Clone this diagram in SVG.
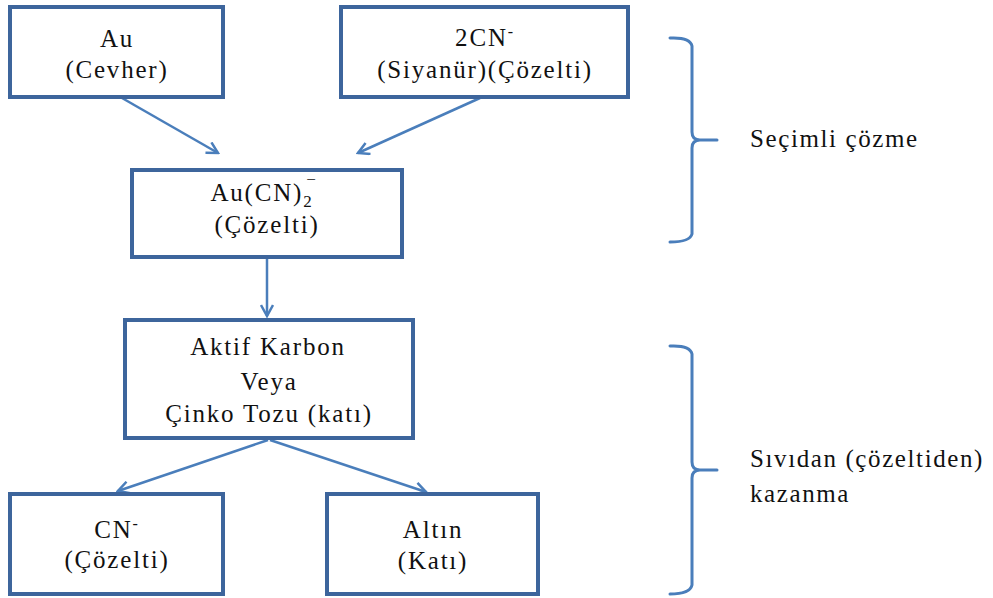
<svg xmlns="http://www.w3.org/2000/svg" width="993" height="598" viewBox="0 0 993 598">
  <style>
    .box { fill: #ffffff; stroke: #3D659C; stroke-width: 4; }
    .lbl { font-family: "Liberation Serif", "Times New Roman", serif; font-size: 25px; letter-spacing: 1.8px; fill: #111111; text-anchor: middle; }
    .side { font-family: "Liberation Serif", "Times New Roman", serif; font-size: 25px; letter-spacing: 1.6px; fill: #111111; }
    .sub { font-size: 17px; }
    .link { fill: none; stroke: #4A7EBB; stroke-width: 2.5; marker-end: url(#open); }
    .brace { fill: none; stroke: #4A7EBB; stroke-width: 3; stroke-linecap: round; stroke-linejoin: round; }
  </style>
  <defs>
    <marker id="open" viewBox="0 0 14 14" refX="12" refY="7" markerWidth="14" markerHeight="14" markerUnits="userSpaceOnUse" orient="auto">
      <path d="M1,1 L12,7 L1,13" fill="none" stroke="#4A7EBB" stroke-width="2.5"/>
    </marker>
  </defs>
  <rect width="993" height="598" fill="#ffffff"/>

  <g id="connectors">
    <line class="link" x1="122" y1="98" x2="218" y2="153"/>
    <line class="link" x1="480" y1="98" x2="358" y2="153"/>
    <line class="link" x1="267" y1="259" x2="267" y2="316"/>
    <line class="link" x1="268" y1="440" x2="118" y2="491"/>
    <line class="link" x1="270" y1="440" x2="426" y2="492"/>
  </g>

  <g id="node-au">
    <rect class="box" x="10" y="7" width="213" height="90"/>
    <text class="lbl" x="117" y="47">Au</text>
    <text class="lbl" x="117" y="78">(Cevher)</text>
  </g>

  <g id="node-cyanide">
    <rect class="box" x="341" y="7" width="287" height="90"/>
    <text class="lbl" x="485" y="46">2CN<tspan font-size="16" dy="-9">-</tspan></text>
    <text class="lbl" x="485" y="78">(Siyanür)(Çözelti)</text>
  </g>

  <g id="node-complex">
    <rect class="box" x="132" y="170" width="270" height="87"/>
    <text class="lbl" x="262" y="201">Au(CN)<tspan class="sub" dy="6">2</tspan></text>
    <text class="lbl sub" x="312" y="185">−</text>
    <text class="lbl" x="267" y="233">(Çözelti)</text>
  </g>

  <g id="node-adsorbent">
    <rect class="box" x="125" y="320" width="288" height="118"/>
    <text class="lbl" x="268" y="355">Aktif<tspan dx="8">Karbon</tspan></text>
    <text class="lbl" x="269" y="390">Veya</text>
    <text class="lbl" x="269" y="422">Çinko Tozu (katı)</text>
  </g>

  <g id="node-cn">
    <rect class="box" x="10" y="494" width="213" height="100"/>
    <text class="lbl" x="117" y="538">CN<tspan font-size="16" dy="-9">-</tspan></text>
    <text class="lbl" x="117" y="568">(Çözelti)</text>
  </g>

  <g id="node-gold">
    <rect class="box" x="327" y="494" width="211" height="100"/>
    <text class="lbl" x="433" y="538">Altın</text>
    <text class="lbl" x="433" y="569">(Katı)</text>
  </g>

  <g id="stage-dissolution">
    <path class="brace" d="M670,38 Q690,37 692,46 L692,132 Q692,140 700,140 L717,140 M700,140 Q692,140 692,148 L692,234 Q690,242 670,242"/>
    <text class="side" x="750" y="147">Seçimli çözme</text>
  </g>

  <g id="stage-recovery">
    <path class="brace" d="M670,346 Q690,345 692,354 L692,462 Q692,470 700,470 L717,470 M700,470 Q692,470 692,478 L692,585 Q690,594 670,594"/>
    <text class="side" x="750" y="467">Sıvıdan (çözeltiden)</text>
    <text class="side" x="750" y="502">kazanma</text>
  </g>
</svg>
